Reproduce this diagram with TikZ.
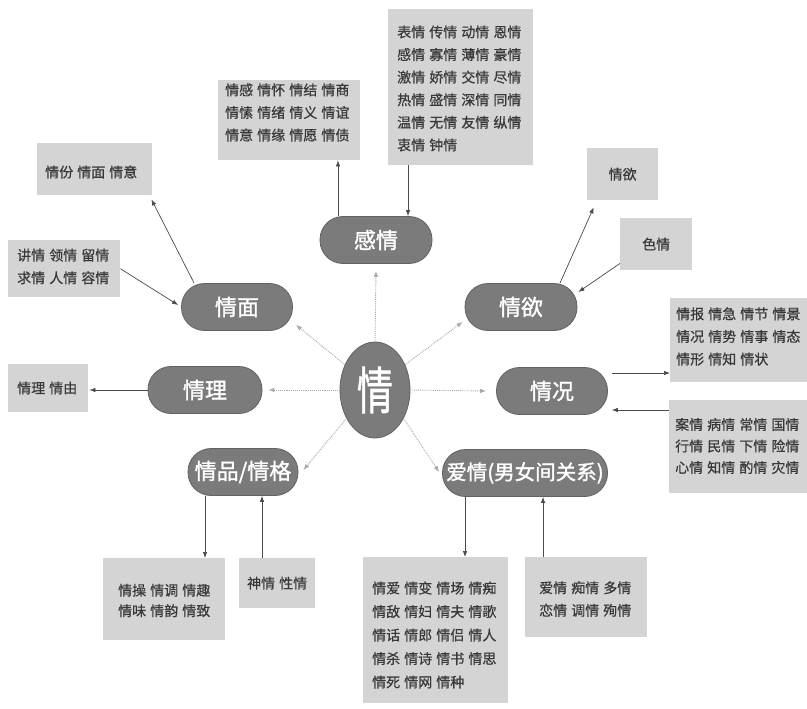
\documentclass[tikz,border=0pt]{standalone}
\usepackage{fontspec}
\usepackage{graphicx}
\usetikzlibrary{shapes.geometric,arrows.meta,calc}
\newfontfamily\cjk[WordSpace=1.3,FakeBold=0.5]{Noto Sans CJK SC}
\newfontfamily\cjkb[FakeBold=1.4]{Noto Sans CJK SC}
\definecolor{pillfill}{HTML}{7B7B7B}
\definecolor{pilldraw}{HTML}{626262}
\definecolor{boxfill}{HTML}{D4D4D4}
\definecolor{boxtext}{HTML}{383838}
\definecolor{linedark}{HTML}{4A4A4A}
\definecolor{linelight}{HTML}{A8A8A8}
\begin{document}
\begin{tikzpicture}[x=1pt,y=-1pt,
 pill/.style={rectangle, rounded corners=23pt, fill=pillfill, draw=pilldraw, line width=0.8pt, text=white, font=\cjkb\fontsize{22}{22}\selectfont, minimum height=47pt, inner sep=0pt},
 gbox/.style={rectangle, fill=boxfill, draw=none, anchor=north west, inner sep=0pt},
 gtxt/.style={anchor=west, align=left, inner sep=0pt, text=boxtext, font=\cjk\fontsize{14}{#1}\selectfont},
 gtxt/.default=22.6,
 ctxt/.style={anchor=center, align=center, inner sep=0pt, text=boxtext, font=\cjk\fontsize{14}{22.6}\selectfont},
 conout/.style={draw=linedark, line width=0.7pt, -{Latex[length=6pt,width=4.5pt]}},
 conin/.style={draw=linelight, line width=0.9pt, densely dotted, -{Latex[length=6pt,width=4.5pt]}},
]
\fill[white] (0,0) rectangle (807,709);
\useasboundingbox (0,0) rectangle (807,709);

% grey boxes
\node[gbox,minimum width=145pt,minimum height=156pt] (bTop) at (388,9) {};
\node[gtxt] (tTop) at (397,88.5) {表情 传情 动情 恩情\\感情 寡情 薄情 豪情\\激情 娇情 交情 尽情\\热情 盛情 深情 同情\\温情 无情 友情 纵情\\衷情 钟情};
\node[gbox,minimum width=142pt,minimum height=80pt] (bQg) at (218,80) {};
\node[gtxt] (tQg) at (225,112.5) {情感 情怀 情结 情商\\情愫 情绪 情义 情谊\\情意 情缘 情愿 情债};
\node[gbox,minimum width=115pt,minimum height=52pt] (bQf) at (37,143) {};
\node[gtxt] (tQf) at (45,172) {情份 情面 情意};
\node[gbox,minimum width=112pt,minimum height=57pt] (bJq) at (8,240) {};
\node[gtxt] (tJq) at (17,266.5) {讲情 领情 留情\\求情 人情 容情};
\node[gbox,minimum width=80pt,minimum height=48pt] (bQl) at (8,364) {};
\node[gtxt] (tQl) at (17,388) {情理 情由};
\node[gbox,minimum width=71pt,minimum height=52pt] (bQy) at (587,148) {};
\node[ctxt] (tQy) at (bQy.center) {情欲};
\node[gbox,minimum width=72pt,minimum height=52pt] (bSq) at (620,218) {};
\node[ctxt] (tSq) at (bSq.center) {色情};
\node[gbox,minimum width=137pt,minimum height=84pt] (bQb) at (670,298) {};
\node[gtxt] (tQb) at (676,336.5) {情报 情急 情节 情景\\情况 情势 情事 情态\\情形 情知 情状};
\node[gbox,minimum width=138pt,minimum height=93pt] (bAq) at (669,400) {};
\node[gtxt=21.5] (tAq) at (675,446) {案情 病情 常情 国情\\行情 民情 下情 险情\\心情 知情 酌情 灾情};
\node[gbox,minimum width=122pt,minimum height=82pt] (bQc) at (103,558) {};
\node[gtxt=20.5] (tQc) at (118,600.5) {情操 情调 情趣\\情味 情韵 情致};
\node[gbox,minimum width=76pt,minimum height=50pt] (bSh) at (239,558) {};
\node[ctxt] (tSh) at (bSh.center) {神情 性情};
\node[gbox,minimum width=145pt,minimum height=146pt] (bQa) at (363,557) {};
\node[gtxt=23.5] (tQa) at (372,635) {情爱 情变 情场 情痴\\情敌 情妇 情夫 情歌\\情话 情郎 情侣 情人\\情杀 情诗 情书 情思\\情死 情网 情种};
\node[gbox,minimum width=122pt,minimum height=80pt] (bAm) at (525,557) {};
\node[gtxt] (tAm) at (539,599) {爱情 痴情 多情\\恋情 调情 殉情};

% pills
\node[pill,minimum width=112pt] (gq) at (376,240) {感情};
\node[pill,minimum width=111pt] (qm) at (237,307) {情面};
\node[pill,minimum width=112pt] (qy) at (521,307) {情欲};
\node[pill,minimum width=114pt] (ql) at (205,390) {情理};
\node[pill,minimum width=111pt] (qk) at (552,391) {情况};
\node[pill,minimum width=110pt] (qp) at (243,472) {情品/情格};
\node[pill,minimum width=165pt,font=\cjkb\fontsize{20.5}{20.5}\selectfont] (ai) at (525,473) {爱情(男女间关系)};

% centre
\node[ellipse, fill=pillfill, draw=pilldraw, line width=0.8pt, minimum width=70pt, minimum height=96pt, inner sep=0pt, text=white, font=\cjkb\fontsize{36}{36}\selectfont] (c) at (375,390) {\scalebox{1}[1.4]{情}};

% centre connectors
\draw[conin] (c.north) -- ($(gq.south)+(0,7)$);
\draw[conin] (c.140) -- ($(qm.south east)+(3,-6)$);
\draw[conin] (c.40) -- ($(qy.south west)+(-2,-9)$);
\draw[conin] (c.west) -- ($(ql.east)+(6,0)$);
\draw[conin] (c.east) -- ($(qk.west)+(-10,0)$);
\draw[conin] (c.225) -- ($(qp.east)+(5,-2)$);
\draw[conin] (c.-45) -- ($(ai.west)+(-3,-1)$);

% outer connectors
\coordinate (a1) at ($(gq.north)+(-38,0)$);
\draw[conout] (a1) -- (a1 |- bQg.south);
\coordinate (a2) at ($(gq.north)+(32,0)$);
\draw[conout] (a2 |- bTop.south) -- (a2);
\draw[conout] ($(qm.north west)+(13,0)$) -- ($(bQf.south east)+(-1,4)$);
\draw[conout] (bJq.east) -- ($(qm.west)+(-3,-2)$);
\draw[conout, shorten >=1pt] (ql.west) -- (ql.west -| bQl.east);
\draw[conout] ($(qy.north)+(39,0)$) -- ($(bQy.south)+(-29,7)$);
\draw[conout] ($(bSq.south west)+(0,-7)$) -- ($(qy.east)+(1,-15)$);
\coordinate (a3) at ($(qk.east)+(4,-18)$);
\draw[conout] (a3) -- (a3 -| bQb.west);
\coordinate (a4) at ($(qk.east)+(4,19)$);
\draw[conout] (a4 -| bAq.west) -- (a4);
\coordinate (a5) at ($(qp.south)+(-38,0)$);
\draw[conout] (a5) -- (a5 |- bQc.north);
\coordinate (a6) at ($(qp.south)+(19,0)$);
\draw[conout] (a6 |- bSh.north) -- (a6);
\coordinate (a7) at ($(ai.south)+(-60,0)$);
\draw[conout] (a7) -- (a7 |- bQa.north);
\coordinate (a8) at ($(ai.south)+(18,0)$);
\draw[conout] (a8 |- bAm.north) -- (a8);
\end{tikzpicture}
\end{document}
